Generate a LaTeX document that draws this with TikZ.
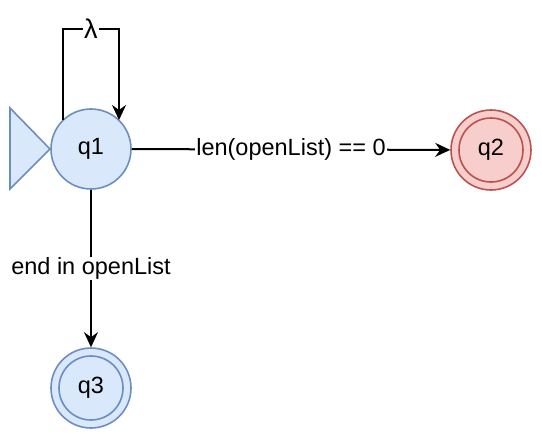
\documentclass[tikz,border=0pt]{standalone}
\usepackage{fontspec}
\setmainfont{Liberation Sans}
\usetikzlibrary{arrows.meta}
\definecolor{bfill}{HTML}{DAE8FC}
\definecolor{bline}{HTML}{6C8EBF}
\definecolor{rfill}{HTML}{F8CECC}
\definecolor{rline}{HTML}{B85450}
\begin{document}
\begin{tikzpicture}[x=1pt,y=-1pt,
  every node/.style={font=\fontsize{23.5}{28}\selectfont},
  state/.style={circle,draw=bline,fill=bfill,line width=1.6pt,minimum size=80pt,inner sep=0pt},
  inner/.style={circle,draw=#1,line width=1.6pt,minimum size=64pt,inner sep=0pt},
  redst/.style={state,draw=rline,fill=rfill},
  edge/.style={-{Stealth[length=15pt,width=14pt,inset=5pt]},line width=2pt},
  lbl/.style={fill=white,inner sep=1pt}]
\useasboundingbox (0,0) rectangle (542,440);
\node[state] (q1) at (91,149) {q1};
\node[redst] (q2) at (491,150) {};
\node[inner=rline] (q2i) at (q2) {q2};
\node[state] (q3) at (91,388) {};
\node[inner=bline] (q3i) at (q3) {q3};
\draw[bline,fill=bfill,line width=1.6pt] (10,108) -- (50,149) -- (10,189) -- cycle;
\coordinate (ls) at (63,120);
\coordinate (le) at (119,120);
\draw[edge] (ls) -- (63,29) -- node[lbl,pos=0.5,font=\fontsize{27}{30}\selectfont]{λ} (119,29) -- (le);
\draw[edge] (q1) -- node[lbl]{len(openList) == 0} (q2);
\draw[edge] (q1) -- node[lbl,pos=0.5]{end in openList} (q3);
\end{tikzpicture}
\end{document}
